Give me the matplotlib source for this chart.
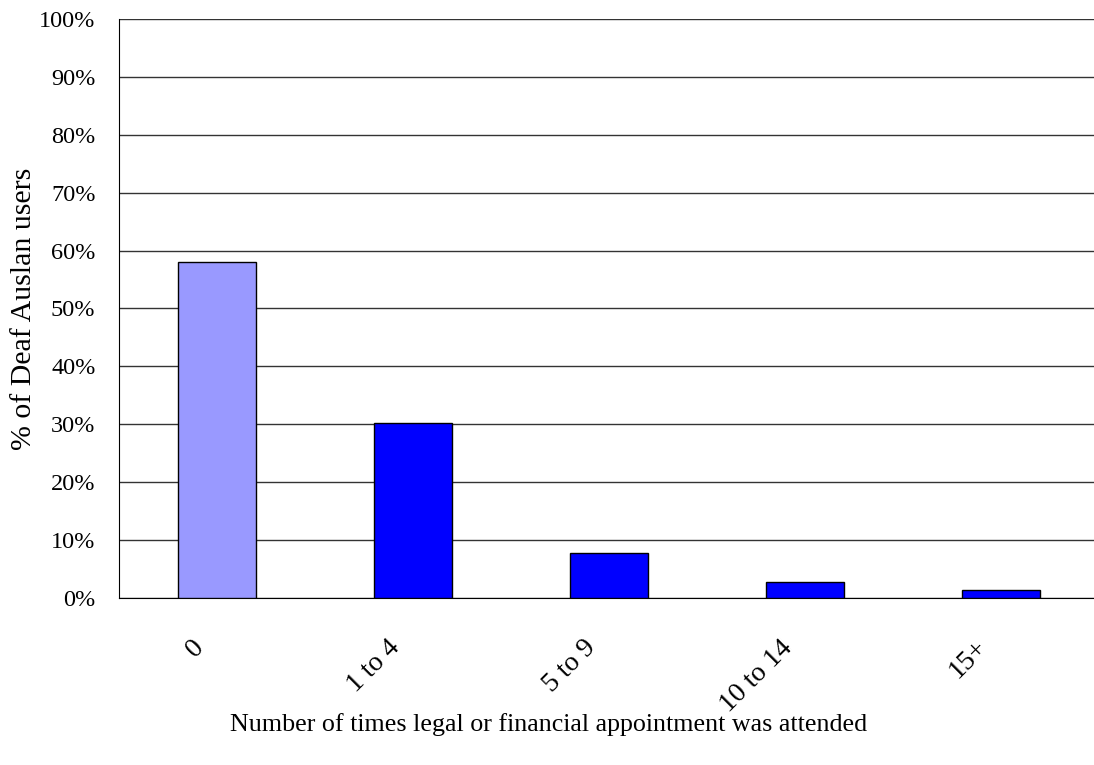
import numpy as np
import matplotlib.pyplot as plt
import matplotlib.transforms as mtransforms
from matplotlib.ticker import PercentFormatter

categories = ["0", "1 to 4", "5 to 9", "10 to 14", "15+"]
values = [58.1, 30.2, 7.8, 2.8, 1.4]
colors = ["#9999FF", "#0000FF", "#0000FF", "#0000FF", "#0000FF"]

plt.rcParams['font.family'] = ['Liberation Serif', 'DejaVu Serif']

fig = plt.figure(figsize=(10.94, 7.65), dpi=100)
ax = fig.add_axes([0.1088, 0.2183, 0.8958, 0.7569])

x = np.arange(len(categories))
ax.bar(x, values, width=0.4, color=colors, edgecolor='black', linewidth=1, zorder=3)

ax.set_xlim(-0.5, len(categories) - 0.5)
ax.set_ylim(0, 100)
ax.set_yticks(np.arange(0, 101, 10))
ax.yaxis.set_major_formatter(PercentFormatter(decimals=0))
ax.grid(axis='y', color='#333333', linewidth=1, zorder=0)

ax.set_xticks(x)
ax.set_xticklabels(categories, rotation=45, ha='right', va='center',
                   rotation_mode='anchor', fontsize=20)
ax.tick_params(axis='x', length=0, pad=33)
ax.tick_params(axis='y', labelsize=17.5, length=0, pad=17)

# nudge rotated labels a bit to the left of the bar centres
shift = mtransforms.ScaledTranslation(-0.17, 0, fig.dpi_scale_trans)
for lbl in ax.get_xticklabels():
    lbl.set_transform(lbl.get_transform() + shift)

for s in ['top', 'right']:
    ax.spines[s].set_visible(False)
ax.spines['left'].set_color('black')
ax.spines['bottom'].set_color('black')

ax.set_ylabel("% of Deaf Auslan users", fontsize=21.5, va='center')
ax.yaxis.set_label_coords(-0.097, 0.5)
ax.set_xlabel("Number of times legal or financial appointment was attended", fontsize=18.7, va='center')
ax.xaxis.set_label_coords(0.438, -0.218)

fig.savefig("out.png", dpi=100)
